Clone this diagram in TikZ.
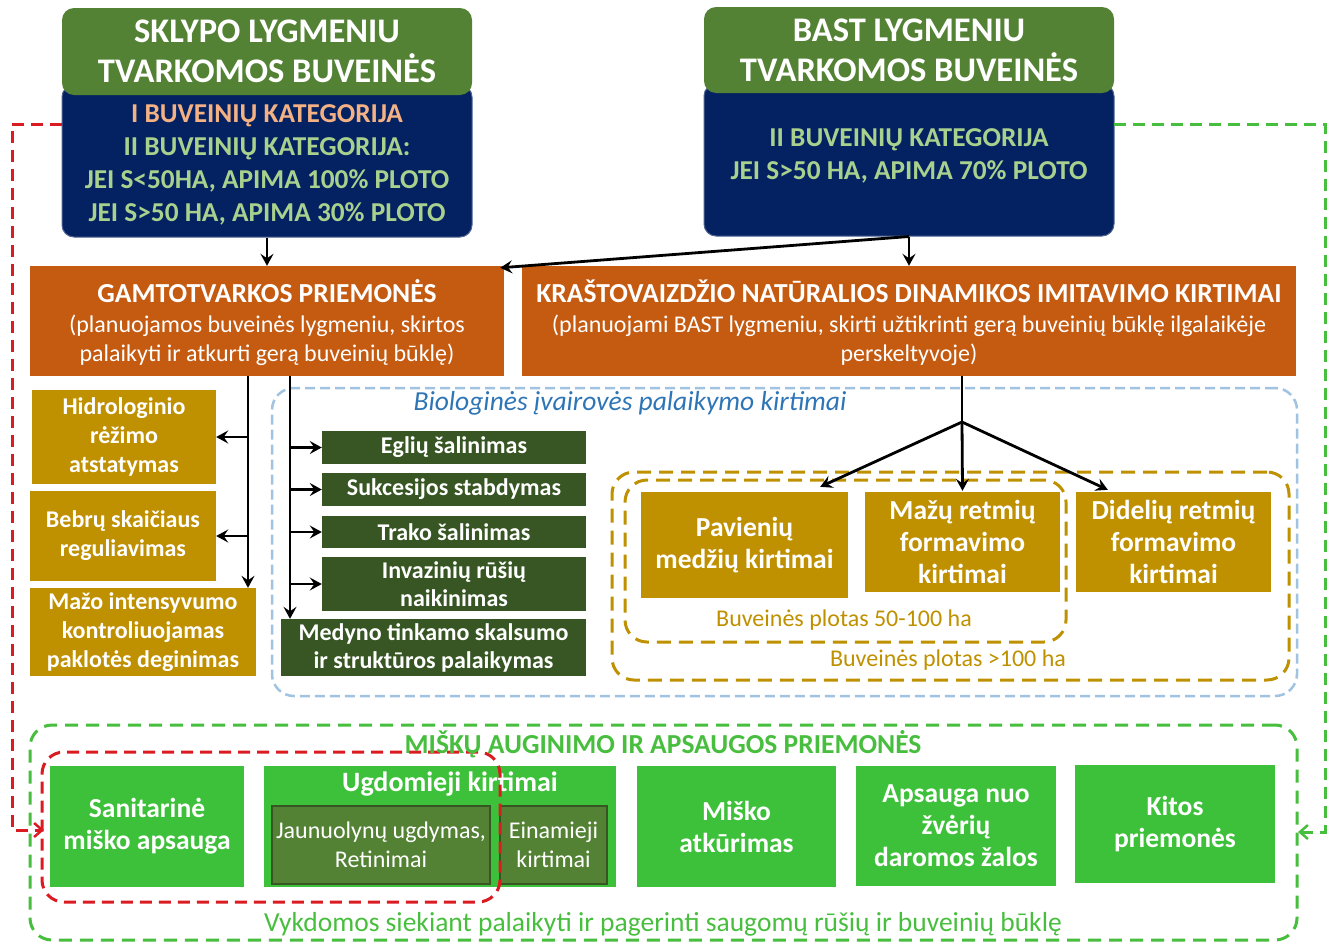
\documentclass[tikz,border=0pt]{standalone}
\usepackage{fontspec}
\setmainfont{Carlito}
\usetikzlibrary{arrows.meta}
\definecolor{hdrgreen}{RGB}{84,130,53}
\definecolor{navy}{RGB}{4,34,98}
\definecolor{salmon}{RGB}{244,177,131}
\definecolor{ltgreen}{RGB}{169,209,142}
\definecolor{orng}{RGB}{197,90,17}
\definecolor{gold}{RGB}{191,144,0}
\definecolor{dkgreen}{RGB}{55,86,35}
\definecolor{brgreen}{RGB}{62,193,58}
\definecolor{olivebox}{RGB}{84,130,53}
\definecolor{dashblue}{RGB}{160,195,225}
\definecolor{txtblue}{RGB}{46,117,182}
\definecolor{dashred}{RGB}{218,28,34}
\definecolor{dashgreen}{RGB}{72,190,62}
\tikzset{
  fillbox/.style={inner sep=0pt, align=center, text=white, draw=none},
  hdrbox/.style={fillbox, fill=hdrgreen, rounded corners=12pt, font=\fontsize{34.5}{40}\selectfont\bfseries},
  navybox/.style={fillbox, fill=navy, rounded corners=12pt, draw=navy!70!white, line width=1pt},
  navytext/.style={inner sep=0pt, align=center, text=ltgreen, font=\fontsize{27.3}{33}\selectfont\bfseries},
  orngbox/.style={fillbox, fill=orng},
  orngtext/.style={inner sep=0pt, align=center, text=white, font=\fontsize{24}{29.5}\selectfont},
  goldsmall/.style={fillbox, fill=gold, font=\fontsize{24}{29}\selectfont\bfseries},
  goldbig/.style={fillbox, fill=gold, font=\fontsize{27.5}{32}\selectfont\bfseries},
  dkbox/.style={fillbox, fill=dkgreen, font=\fontsize{24}{28}\selectfont\bfseries},
  grbox/.style={fillbox, fill=brgreen, font=\fontsize{27.5}{32}\selectfont\bfseries},
  olbox/.style={fillbox, fill=olivebox, draw=dkgreen, line width=1.5pt, font=\fontsize{24}{29}\selectfont},
  arr/.style={draw=black, line width=2.8pt, -{Stealth[length=12pt,width=13pt,inset=4.5pt]}},
  plainline/.style={draw=black, line width=2.8pt},
  bluedash/.style={draw=dashblue, line width=2.5pt, dash pattern=on 10pt off 5pt, rounded corners=22pt},
  golddash/.style={draw=gold, line width=3pt, dash pattern=on 14pt off 8pt, rounded corners=22pt},
  reddash/.style={draw=dashred, line width=3pt, dash pattern=on 12pt off 7pt, rounded corners=22pt},
  greendash/.style={draw=dashgreen, line width=3pt, dash pattern=on 13pt off 8pt, rounded corners=22pt},
  redconn/.style={draw=dashred, line width=3pt, dash pattern=on 12pt off 7pt, -{Straight Barb[length=8pt,width=14pt,line width=2.5pt]}},
  greenconn/.style={draw=dashgreen, line width=3pt, dash pattern=on 12pt off 7pt, -{Straight Barb[length=8pt,width=14pt,line width=2.5pt]}},
}
\begin{document}
\begin{tikzpicture}[x=1pt,y=-1pt]
\useasboundingbox (0,0) rectangle (1335,943);

% ---- top boxes
\node[navybox, minimum width=410, minimum height=152] (slbox) at (267,161) {};
\node[hdrbox, minimum width=410, minimum height=87] (slhdr) at (267,51.5) {SKLYPO LYGMENIU\\TVARKOMOS BUVEINĖS};
\node[navytext] (sltxt) at (267,165) {\textcolor{salmon}{I BUVEINIŲ KATEGORIJA}\\II BUVEINIŲ KATEGORIJA:\\JEI S<50HA, APIMA 100\% PLOTO\\JEI S>50 HA, APIMA 30\% PLOTO};

\node[navybox, minimum width=410, minimum height=152] (bsbox) at (909,160) {};
\node[hdrbox, minimum width=410, minimum height=86] (bshdr) at (909,50) {BAST LYGMENIU\\TVARKOMOS BUVEINĖS};
\node[navytext] (bstxt) at (909,156) {II BUVEINIŲ KATEGORIJA\\JEI S>50 HA, APIMA 70\% PLOTO};

% ---- orange boxes
\node[orngbox, minimum width=474, minimum height=110] (orl) at (267,321) {};
\node[orngtext] (orltxt) at (267,323)
  {{\fontsize{27.5}{29.5}\selectfont\bfseries GAMTOTVARKOS PRIEMONĖS}\\(planuojamos buveinės lygmeniu, skirtos\\palaikyti ir atkurti gerą buveinių būklę)};
\node[orngbox, minimum width=774, minimum height=110] (orr) at (909,321) {};
\node[orngtext] (orrtxt) at (909,323)
  {{\fontsize{27.5}{29.5}\selectfont\bfseries KRAŠTOVAIZDŽIO NATŪRALIOS DINAMIKOS IMITAVIMO KIRTIMAI}\\(planuojami BAST lygmeniu, skirti užtikrinti gerą buveinių būklę ilgalaikėje\\perskeltyvoje)};

\draw[arr] (slbox.south) -- (orl.north);
\draw[arr] (bsbox.south) -- (orr.north);
\draw[arr] (bsbox.south) -- ([xshift=-4pt,yshift=-2pt]orl.north east);

% ---- dashed containers
\node[bluedash, minimum width=1025, minimum height=308, inner sep=0pt] (bio) at (784.5,542) {};
\node[inner sep=0pt, text=txtblue, font=\fontsize{27.5}{30}\selectfont\itshape] (biolbl) at (630,403) {Biologinės įvairovės palaikymo kirtimai};

\node[golddash, minimum width=677, minimum height=208, inner sep=0pt] (big) at (950.5,576) {};
\node[golddash, minimum width=441, minimum height=162, inner sep=0pt] (mid) at (845.5,561) {};
\node[inner sep=0pt, text=gold, font=\fontsize{24}{28}\selectfont] (midlbl) at (844,620) {Buveinės plotas 50-100 ha};
\node[inner sep=0pt, text=gold, font=\fontsize{24}{28}\selectfont] (biglbl) at (948,660) {Buveinės plotas >100 ha};

% ---- left gold boxes
\node[goldsmall, minimum width=184, minimum height=94] (hid) at (124,437) {Hidrologinio\\rėžimo\\atstatymas};
\node[goldsmall, minimum width=186, minimum height=90] (beb) at (123,536) {Bebrų skaičiaus\\reguliavimas};
\node[goldsmall, minimum width=226, minimum height=88] (maz) at (143,632) {Mažo intensyvumo\\kontroliuojamas\\paklotės deginimas};

% ---- dark green boxes
\node[dkbox, minimum width=264, minimum height=33] (egl) at (454,447.5) {Eglių šalinimas};
\node[dkbox, minimum width=264, minimum height=33] (suk) at (454,489.5) {Sukcesijos stabdymas};
\node[dkbox, minimum width=264, minimum height=32] (tra) at (454,532) {Trako šalinimas};
\node[dkbox, minimum width=264, minimum height=54] (inv) at (454,584) {Invazinių rūšių\\naikinimas};
\node[dkbox, minimum width=305, minimum height=57] (med) at (433.5,647.5) {Medyno tinkamo skalsumo\\ir struktūros palaikymas};

% ---- gold big boxes
\node[goldbig, minimum width=207, minimum height=106] (pav) at (744.5,545) {Pavienių\\medžių kirtimai};
\node[goldbig, minimum width=195, minimum height=100] (mzr) at (962.5,542) {Mažų retmių\\formavimo\\kirtimai};
\node[goldbig, minimum width=195, minimum height=100] (did) at (1173.5,542) {Didelių retmių\\formavimo\\kirtimai};

% ---- left branch connectors
\coordinate (t1) at (248,376);
\coordinate (t2) at (290,376);
\draw[arr] (t1) -- (t1 |- maz.north);
\draw[arr] (t1 |- hid.east) -- (hid.east);
\draw[arr] (t1 |- beb.east) -- (beb.east);
\draw[arr] (t2) -- (t2 |- med.north);
\draw[arr] (t2 |- egl.west) -- (egl.west);
\draw[arr] (t2 |- suk.west) -- (suk.west);
\draw[arr] (t2 |- tra.west) -- (tra.west);
\draw[arr] (t2 |- inv.west) -- (inv.west);

% ---- right branch connectors
\coordinate (j) at (962,422);
\draw[plainline] (orr.south -| j) -- (j);
\draw[arr] (j) -- ([xshift=-28pt,yshift=5pt]pav.north east);
\draw[arr] (j) -- ([yshift=1pt]mzr.north);
\draw[arr] (j) -- ([xshift=32pt,yshift=2pt]did.north west);

% ---- bottom section
\node[greendash, minimum width=1267, minimum height=215, inner sep=0pt] (forest) at (663.5,832.5) {};
\node[grbox, minimum width=194, minimum height=121] (san) at (147,826.5) {Sanitarinė\\miško apsauga};
\node[grbox, minimum width=352, minimum height=121] (ugd) at (440,826.5) {};
\node[inner sep=0pt, text=white, font=\fontsize{28}{30}\selectfont\bfseries] (ugdlbl) at (450,784) {Ugdomieji kirtimai};
\node[olbox, minimum width=218, minimum height=78] (jau) at (381,845) {Jaunuolynų ugdymas,\\Retinimai};
\node[olbox, minimum width=107, minimum height=78] (ein) at (553.5,845) {Einamieji\\kirtimai};
\node[grbox, minimum width=199, minimum height=121] (mis) at (736.5,826.5) {Miško\\atkūrimas};
\node[grbox, minimum width=200, minimum height=120] (aps) at (956,826) {Apsauga nuo\\žvėrių\\daromos žalos};
\node[grbox, minimum width=200, minimum height=118] (kit) at (1175,824) {Kitos\\priemonės};
\node[reddash, minimum width=458, minimum height=150, inner sep=0pt] (redgrp) at (271,827) {};
\node[inner sep=0pt, text=dashgreen, font=\fontsize{27.5}{30}\selectfont\bfseries] (forestlbl) at (663,744) {MIŠKŲ AUGINIMO IR APSAUGOS PRIEMONĖS};
\node[inner sep=0pt, text=dashgreen, font=\fontsize{27.5}{30}\selectfont] (forestnote) at (663,924) {Vykdomos siekiant palaikyti ir pagerinti saugomų rūšių ir buveinių būklę};

% ---- dashed feedback connectors
\coordinate (redstart) at (62,124);
\coordinate (redend) at (44,830);
\draw[redconn] (redstart) -- ++(-50,0) |- (redend);
\coordinate (greenstart) at (1114,124);
\coordinate (greenend) at (1298,832);
\draw[greenconn] (greenstart) -- ++(211,0) |- (greenend);
\end{tikzpicture}
\end{document}
